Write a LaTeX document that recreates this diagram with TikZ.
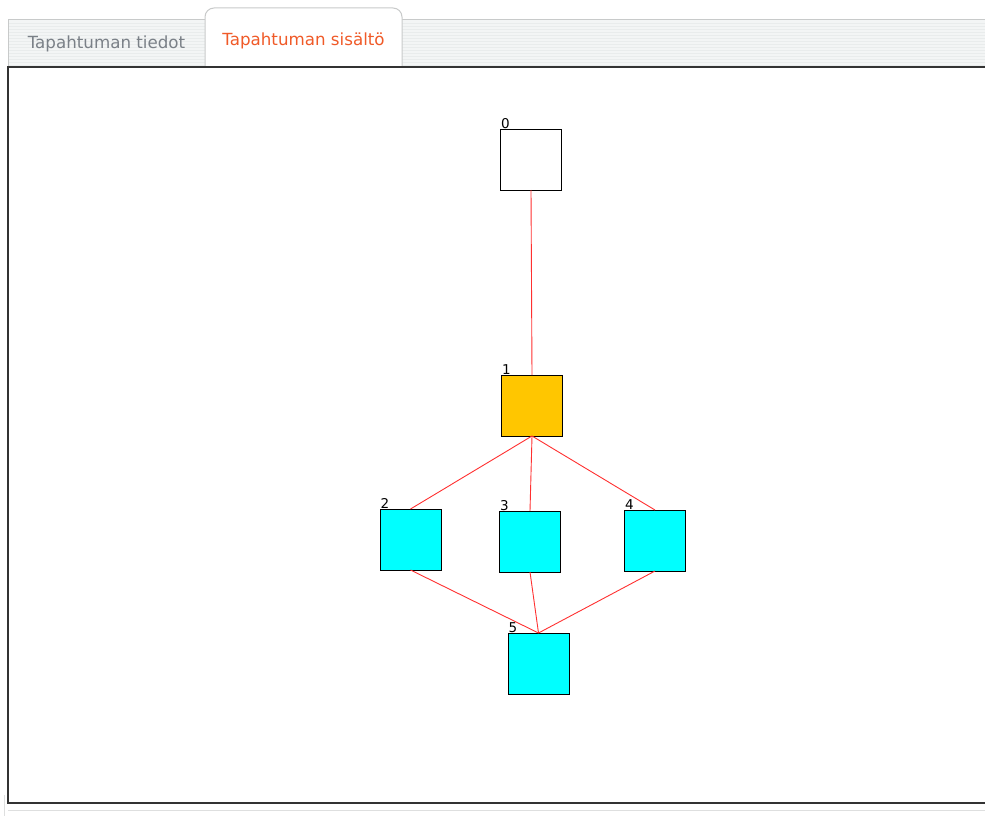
\documentclass[tikz,border=0pt]{standalone}
\usepackage{fontspec}
\setmainfont{DejaVu Sans}
\newfontfamily\labfont{DejaVu Sans}
\definecolor{tabgray}{HTML}{F3F5F5}
\definecolor{tabstripe}{HTML}{E9ECEC}
\definecolor{tabborder}{HTML}{C8CACA}
\definecolor{tabtext}{HTML}{7A8087}
\definecolor{acttext}{HTML}{F05A28}
\definecolor{panelborder}{HTML}{333333}
\definecolor{gold}{HTML}{FFC600}
\definecolor{aqua}{HTML}{00FFFF}
\definecolor{edgered}{HTML}{FF3030}
\tikzset{
  box/.style={draw=black, line width=0.9pt, minimum width=61pt, minimum height=61pt, inner sep=0pt, outer sep=0pt},
  lab/.style={font=\labfont\fontsize{13.5}{13.5}\selectfont, inner sep=0pt, anchor=base west},
  edge/.style={draw=edgered, line width=0.9pt},
  tablabel/.style={font=\fontsize{16.7}{16.7}\selectfont, inner sep=0pt}
}
\begin{document}
\begin{tikzpicture}[x=1pt,y=-1pt]
\useasboundingbox (0,0) rectangle (985,816);
\fill[white] (0,0) rectangle (985,816);
% tab bar
\fill[tabgray] (8,20) rectangle (985,67);
\foreach \yy in {23,26,...,65} {\draw[tabstripe, line width=0.6pt] (8,\yy) -- (985,\yy);}
\draw[tabborder, line width=1pt] (8,67) -- (8,20) -- (985,20);
% active tab
\fill[white, rounded corners=9pt] (205,67) -- (205,8) -- (402,8) [sharp corners] -- (402,67) -- cycle;
\draw[tabborder, line width=1pt, rounded corners=9pt] (205,67) -- (205,8) -- (402,8) [sharp corners] -- (402,67);
\node[tablabel, text=tabtext] (t1) at (106.5,44) {Tapahtuman tiedot};
\node[tablabel, text=acttext] (t2) at (303.5,41) {Tapahtuman sisältö};
% panel
\draw[panelborder, line width=1.5pt] (990,67) -- (8,67) -- (8,803) -- (990,803);
\draw[tabborder!60, line width=0.8pt] (4,795) -- (4,816);
\draw[tabborder!60, line width=0.8pt] (8,810) -- (985,810);
% nodes
\node[box, fill=white] (n0) at (531,159.5) {};
\node[box, fill=gold] (n1) at (532,405.5) {};
\node[box, fill=aqua] (n2) at (410.5,539.5) {};
\node[box, fill=aqua] (n3) at (530,541.5) {};
\node[box, fill=aqua] (n4) at (655,540.5) {};
\node[box, fill=aqua] (n5) at (538.5,663.5) {};
\node[lab] (l0) at ([xshift=0.5pt,yshift=1pt]n0.north west) {0};
\node[lab] (l1) at ([xshift=0.5pt,yshift=1pt]n1.north west) {1};
\node[lab] (l2) at ([xshift=0.5pt,yshift=1pt]n2.north west) {2};
\node[lab] (l3) at ([xshift=0.5pt,yshift=1pt]n3.north west) {3};
\node[lab] (l4) at ([xshift=0.5pt,yshift=1pt]n4.north west) {4};
\node[lab] (l5) at ([xshift=0.5pt,yshift=1pt]n5.north west) {5};
% edges
\draw[edge] (n0.south) -- (n1.north);
\draw[edge] (n1.south) -- (n2.north);
\draw[edge] (n1.south) -- (n3.north);
\draw[edge] (n1.south) -- (n4.north);
\draw[edge] (n2.south) -- (n5.north);
\draw[edge] (n3.south) -- (n5.north);
\draw[edge] (n4.south) -- (n5.north);
\end{tikzpicture}
\end{document}
